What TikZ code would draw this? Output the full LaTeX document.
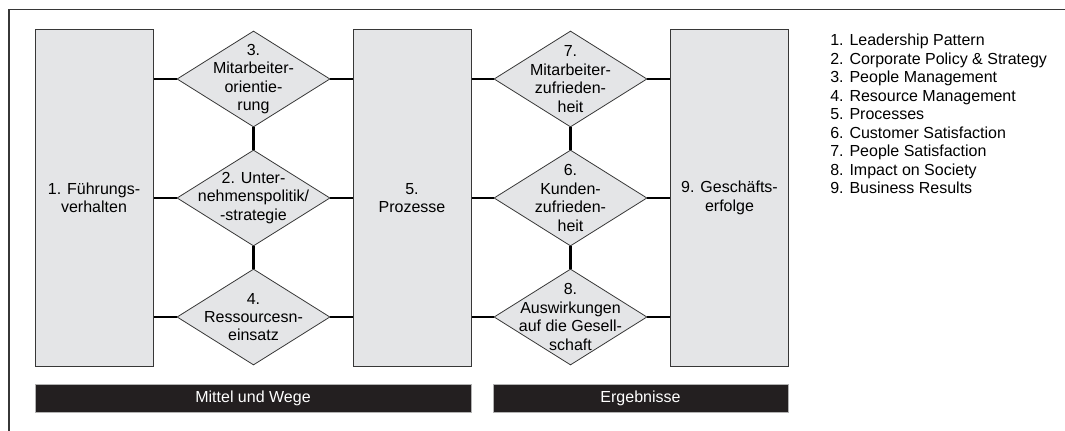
\documentclass[tikz,border=0pt]{standalone}
\usepackage{fontspec}
\setmainfont{Liberation Sans}
\usetikzlibrary{shapes.geometric}
\definecolor{boxfill}{RGB}{228,229,231}
\definecolor{barfill}{RGB}{35,31,32}
\definecolor{edge}{RGB}{55,55,55}
\tikzset{
  box/.style={draw=edge, line width=0.75pt, fill=boxfill, minimum width=88.5pt, minimum height=252pt, inner sep=0pt, align=center, font=\fontsize{12}{13.8}\selectfont},
  dia/.style={diamond, draw=edge, line width=0.6pt, fill=boxfill, minimum width=114.75pt, minimum height=72pt, inner sep=0pt},
  lbl/.style={align=center, inner sep=0pt, font=\fontsize{12}{13.8}\selectfont},
  conn/.style={line width=1.6pt, black},
  bar/.style={fill=barfill, draw=gray!60, line width=0.5pt, minimum height=21pt, inner sep=0pt, text=white, font=\fontsize{12}{13.8}\selectfont},
  frame/.style={line width=1.1pt, draw=edge},
  legend/.style={align=left, inner sep=0pt, font=\fontsize{12}{13.875}\selectfont}
}
\begin{document}
\begin{tikzpicture}[x=0.75pt, y=-0.75pt]
\useasboundingbox (0,0) rectangle (1065,431);
% frame (top and left lines)
\coordinate (fa) at (9,431);
\coordinate (fb) at (9,9.5);
\coordinate (fc) at (1065,9.5);
\draw[frame] (fa) -- (fb) -- (fc);
% boxes
\node[box] (b1) at (94,198) {1. Führungs-\\verhalten};
\node[box] (b5) at (412,198) {5.\\Prozesse};
\node[box] (b9) at (729.5,198) {9. Geschäfts-\\erfolge};
% diamonds column 1
\node[dia] (d3) at (253.5,79) {};
\node[dia] (d2) at (253.5,198) {};
\node[dia] (d4) at (253.5,317) {};
\node[lbl] (t3) at (d3) {3.\\Mitarbeiter-\\orientie-\\rung};
\node[lbl] (t2) at (d2) {2. Unter-\\nehmenspolitik/\\-strategie};
\node[lbl] (t4) at (d4) {4.\\Ressourcesn-\\einsatz};
% diamonds column 2
\node[dia] (d7) at (570.5,79) {};
\node[dia] (d6) at (570.5,198) {};
\node[dia] (d8) at (570.5,317) {};
\node[lbl] (t7) at (d7) {7.\\Mitarbeiter-\\zufrieden-\\heit};
\node[lbl] (t6) at (d6) {6.\\Kunden-\\zufrieden-\\heit};
\node[lbl] (t8) at (d8) {8.\\Auswirkungen\\auf die Gesell-\\schaft};
% connectors column 1
\foreach \d in {d3,d2,d4}{
  \draw[conn] (b1.east |- \d.west) -- (\d.west);
  \draw[conn] (\d.east) -- (b5.west |- \d.east);
}
\draw[conn] (d3.south) -- (d2.north);
\draw[conn] (d2.south) -- (d4.north);
% connectors column 2
\foreach \d in {d7,d6,d8}{
  \draw[conn] (b5.east |- \d.west) -- (\d.west);
  \draw[conn] (\d.east) -- (b9.west |- \d.east);
}
\draw[conn] (d7.south) -- (d6.north);
\draw[conn] (d6.south) -- (d8.north);
% bars
\node[bar, minimum width=327pt] (m1) at (253,398) {Mittel und Wege};
\node[bar, minimum width=221.25pt] (m2) at (640.5,398) {Ergebnisse};
% legend
\node[legend, anchor=north west] (leg) at (830,34) {1. Leadership Pattern\\2. Corporate Policy \& Strategy\\3. People Management\\4. Resource Management\\5. Processes\\6. Customer Satisfaction\\7. People Satisfaction\\8. Impact on Society\\9. Business Results};
\end{tikzpicture}
\end{document}
